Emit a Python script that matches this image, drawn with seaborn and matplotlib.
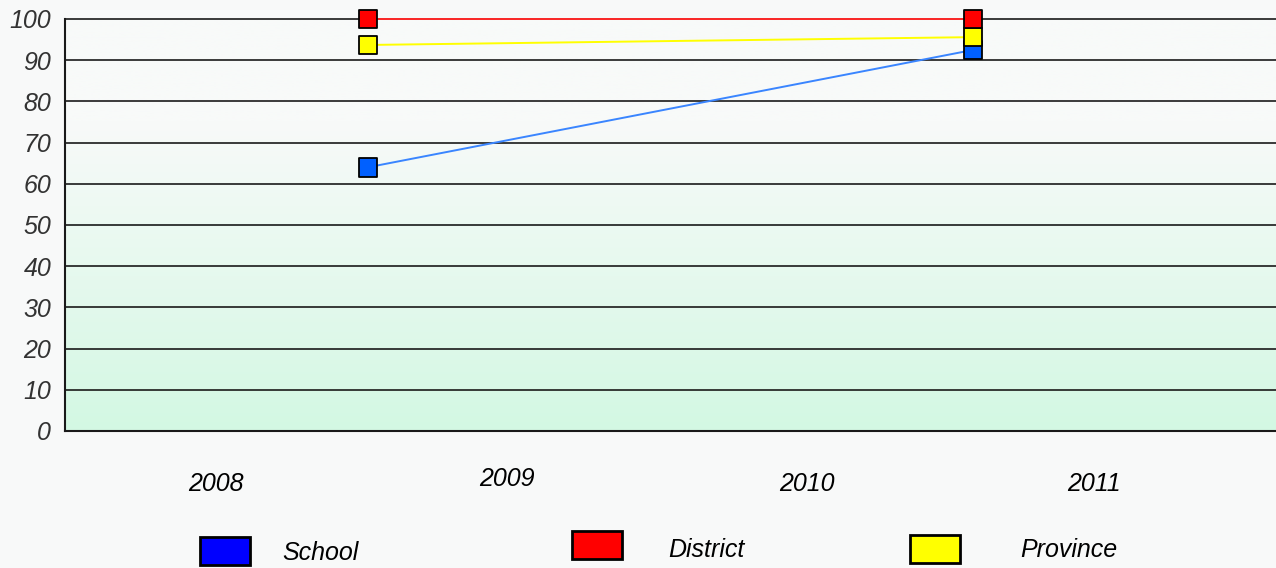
import matplotlib.pyplot as plt
import matplotlib.colors as mcolors
from matplotlib.patches import Rectangle
import numpy as np
import pandas as pd
import seaborn as sns

years = [2008, 2009, 2010, 2011]
point_x = [2008.5, 2010.5]
series = ['School', 'District', 'Province']
school = [64, 92.5]
district = [100, 100]
province = [93.7, 95.6]

line_colors = {'School': '#3a85ff', 'District': '#ff2a2a', 'Province': '#ffff00'}
marker_colors = {'School': '#0060ff', 'District': '#ff0000', 'Province': '#ffff00'}
legend_colors = {'School': '#0000ff', 'District': '#ff0000', 'Province': '#ffff00'}

rows = []
for name, vals in [('School', school), ('Province', province), ('District', district)]:
    for x, v in zip(point_x, vals):
        rows.append({'x': x, 'value': v, 'series': name})
df = pd.DataFrame(rows)

sns.set_style('white')
plt.rcParams['font.family'] = ['Liberation Sans', 'DejaVu Sans']
plt.rcParams['font.style'] = 'italic'

fig = plt.figure(figsize=(12.76, 5.68), dpi=100)
fig.patch.set_facecolor('#f8f9f9')
ax = fig.add_axes([65 / 1276, 1 - 431 / 568, 1 - 65 / 1276, 412 / 568])
ax.set_xlim(2007.5, 2011.5)
ax.set_ylim(0, 100)

# gradient background: whitish at top to pale green at bottom
top = np.array(mcolors.to_rgb('#f8faf9'))
bot = np.array(mcolors.to_rgb('#d3f8e3'))
t = np.linspace(0, 1, 256)[:, None]
t = np.clip(t / 0.75, 0, 1)
grad = bot + (top - bot) * t
ax.imshow(grad[:, None, :].repeat(2, axis=1), extent=[0, 1, 0, 1], transform=ax.transAxes,
          aspect='auto', origin='lower', zorder=0)

for yv in range(10, 101, 10):
    ax.axhline(yv, color='#1a1a1a', lw=1.2, zorder=1, clip_on=False)

sns.lineplot(data=df, x='x', y='value', hue='series', palette=line_colors,
             legend=False, ax=ax, lw=1.4, zorder=2)
for ln in ax.lines:
    ln.set_clip_on(False)
sns.scatterplot(data=df, x='x', y='value', hue='series', palette=marker_colors,
                marker='s', s=175, edgecolor='black', linewidth=1.3,
                legend=False, ax=ax, zorder=3, clip_on=False)

ax.set_yticks(range(0, 101, 10))
ax.set_yticklabels([str(v) for v in range(0, 101, 10)], fontsize=18, color='#333333')
ax.tick_params(axis='y', length=0, pad=10)
ax.set_xticks([])
ax.set_xlabel('')
ax.set_ylabel('')
for s in ['top', 'right']:
    ax.spines[s].set_visible(False)
for s in ['left', 'bottom']:
    ax.spines[s].set_color('#1a1a1a')
    ax.spines[s].set_linewidth(1.5)

# year labels under the axis
nudge = [0.0, -0.04, -0.05, -0.1]
ypix = [484, 479, 484, 484]
for yr, dx, yp in zip(years, nudge, ypix):
    x_fig = fig.transFigure.inverted().transform(ax.transData.transform((yr + dx, 0)))[0]
    fig.text(x_fig, 1 - yp / 568, str(yr), ha='center', va='center', fontsize=18, color='black')

# legend
box_x = [200, 572, 910]
box_y = [551, 545, 549]
text_x = [282, 668, 1020]
text_y = [553, 550, 550]
for name, bx, by, tx, ty in zip(series, box_x, box_y, text_x, text_y):
    fig.add_artist(Rectangle((bx / 1276, 1 - (by + 14) / 568), 50 / 1276, 28 / 568,
                             transform=fig.transFigure, facecolor=legend_colors[name],
                             edgecolor='black', lw=2))
    fig.text(tx / 1276, 1 - ty / 568, name, ha='left', va='center', fontsize=18, color='black')

fig.savefig('out.png', dpi=100, facecolor=fig.get_facecolor())
